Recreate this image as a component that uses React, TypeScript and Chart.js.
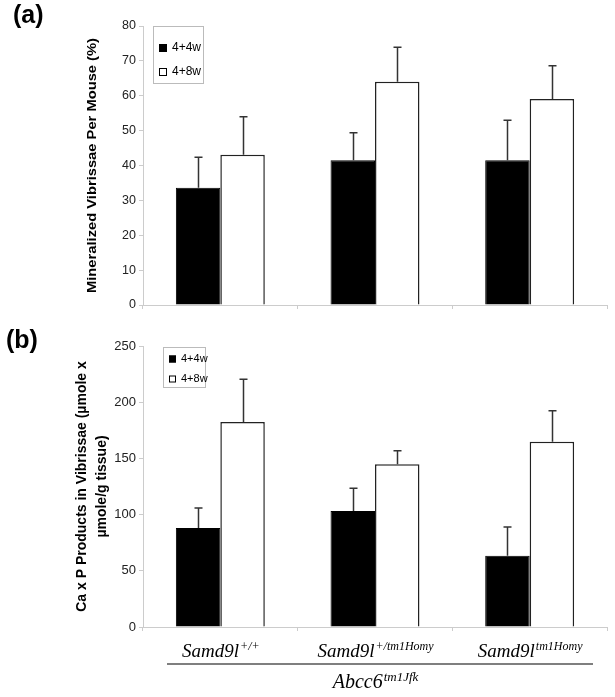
import React, { useEffect, useRef } from "react";
import { Chart, registerables } from "chart.js";
Chart.register(...registerables);

// ---- data ----
const categoryBase = ["Samd9l", "Samd9l", "Samd9l"];
const categorySup = ["+/+", "+/tm1Homy", "tm1Homy"];
const categories = ["Samd9l+/+", "Samd9l+/tm1Homy", "Samd9ltm1Homy"];
const groupBase = "Abcc6";
const groupSup = "tm1Jfk";
const seriesLabels = ["4+4w", "4+8w"];

const aMean44 = [33.6, 41.5, 41.5];
const aErr44 = [8.8, 7.9, 11.5];
const aMean48 = [43.1, 64.0, 59.1];
const aErr48 = [10.9, 9.9, 9.5];
const aMax = 80;
const aStep = 10;
const aTitle = ["Mineralized Vibrissae Per Mouse (%)"];

const bMean44 = [88.1, 103.2, 63.5];
const bErr44 = [17.8, 20.2, 25.5];
const bMean48 = [182.4, 144.8, 164.9];
const bErr48 = [38.0, 12.1, 27.6];
const bMax = 250;
const bStep = 50;
const bTitle = ["Ca x P Products in Vibrissae (\u00b5mole x", "\u00b5mole/g tissue)"];

const SANS = "'Liberation Sans', Arial, sans-serif";
const SERIF = "'Liberation Serif', 'Times New Roman', serif";

const errorBarPlugin = {
  id: "errorBars",
  afterDatasetsDraw(chart: any) {
    const ctx = chart.ctx;
    const y = chart.scales.y;
    chart.data.datasets.forEach((ds: any, di: number) => {
      const meta = chart.getDatasetMeta(di);
      meta.data.forEach((el: any, i: number) => {
        const v = ds.data[i];
        const e = ds.errors[i];
        const top = y.getPixelForValue(v + e);
        const x = Math.round(el.x) + 0.5;
        ctx.save();
        ctx.strokeStyle = "#333";
        ctx.lineWidth = 1.5;
        ctx.beginPath();
        ctx.moveTo(x, el.y);
        ctx.lineTo(x, top);
        ctx.moveTo(x - 4, top);
        ctx.lineTo(x + 4, top);
        ctx.stroke();
        ctx.restore();
      });
    });
  },
};

const decorPlugin = {
  id: "decor",
  afterDraw(chart: any, _args: any, opts: any) {
    const ctx = chart.ctx;
    const ca = chart.chartArea;
    ctx.save();
    // panel label
    ctx.fillStyle = "#000";
    ctx.font = `bold 25px ${SANS}`;
    ctx.textAlign = "left";
    ctx.textBaseline = "middle";
    ctx.fillText(opts.panel, opts.panelX, opts.panelY);

    // y title
    ctx.font = `bold ${opts.titleSize}px ${SANS}`;
    ctx.textAlign = "center";
    ctx.textBaseline = "middle";
    const cy = (ca.top + ca.bottom) / 2;
    opts.title.forEach((line: string, i: number) => {
      ctx.save();
      ctx.translate(opts.titleX[i], cy);
      ctx.rotate(-Math.PI / 2);
      if (opts.titleLen) {
        const w = ctx.measureText(line).width;
        ctx.scale(opts.titleLen / w, 1);
      }
      ctx.fillText(line, 0, 0);
      ctx.restore();
    });

    // legend box
    const lx = ca.left + opts.legX;
    const ly = ca.top + opts.legY;
    ctx.strokeStyle = "#bbb";
    ctx.lineWidth = 1;
    ctx.strokeRect(lx + 0.5, ly + 0.5, opts.legW, opts.legH);
    ctx.font = `${opts.legFont}px ${SANS}`;
    ctx.textAlign = "left";
    ctx.textBaseline = "middle";
    chart.data.datasets.forEach((ds: any, i: number) => {
      const ry = ly + opts.legRow0 + i * opts.legGap;
      const s = opts.legSq;
      ctx.fillStyle = ds.backgroundColor;
      ctx.fillRect(lx + 6, ry - s / 2, s, s);
      ctx.strokeStyle = "#000";
      ctx.strokeRect(lx + 6.5, ry - s / 2 + 0.5, s - 1, s - 1);
      ctx.fillStyle = "#000";
      ctx.fillText(ds.label, lx + 8 + s + 3, ry);
    });

    // category labels
    if (opts.catLabels) {
      const xs = chart.scales.x;
      const baseY = ca.bottom + 30;
      const drawSup = (base: string, sup: string, cx: number, by: number, size: number, supSize: number) => {
        ctx.font = `italic ${size}px ${SERIF}`;
        const wb = ctx.measureText(base).width;
        ctx.font = `italic ${supSize}px ${SERIF}`;
        const ws = ctx.measureText(sup).width;
        const start = cx - (wb + ws) / 2;
        ctx.fillStyle = "#000";
        ctx.textAlign = "left";
        ctx.textBaseline = "alphabetic";
        ctx.font = `italic ${size}px ${SERIF}`;
        ctx.fillText(base, start, by);
        ctx.font = `italic ${supSize}px ${SERIF}`;
        ctx.fillText(sup, start + wb + 1, by - 7);
      };
      categoryBase.forEach((b, i) => {
        drawSup(b, categorySup[i], xs.getPixelForValue(i), baseY, 19, 12);
      });
      ctx.strokeStyle = "#555";
      ctx.lineWidth = 1.5;
      ctx.beginPath();
      ctx.moveTo(ca.left + 24, baseY + 7);
      ctx.lineTo(ca.right - 14, baseY + 7);
      ctx.stroke();
      drawSup(groupBase, groupSup, xs.getPixelForValue(1), baseY + 31, 20, 13);
    }
    ctx.restore();
  },
};

function makeConfig(
  m44: number[], e44: number[], m48: number[], e48: number[],
  max: number, step: number, bottomPad: number, tickSize: number, decor: any
): any {
  return {
    type: "bar",
    data: {
      labels: categories,
      datasets: [
        {
          label: seriesLabels[0], data: m44, errors: e44,
          backgroundColor: "#000", borderColor: "#000", borderWidth: 1,
          categoryPercentage: 0.575, barPercentage: 1,
        },
        {
          label: seriesLabels[1], data: m48, errors: e48,
          backgroundColor: "#fff", borderColor: "#222", borderWidth: 1.5,
          categoryPercentage: 0.575, barPercentage: 1,
        },
      ],
    },
    options: {
      responsive: false,
      animation: false,
      devicePixelRatio: 1,
      layout: { padding: { left: 0, right: 8, top: 26, bottom: bottomPad } },
      plugins: { legend: { display: false }, tooltip: { enabled: false }, decor },
      scales: {
        x: {
          ticks: { display: false },
          grid: { drawOnChartArea: false, color: "#ccc", tickLength: 4, offset: true },
          border: { color: "#ccc" },
          afterFit: (s: any) => { s.height = 10; },
        },
        y: {
          min: 0, max,
          ticks: { stepSize: step, color: "#222", font: { family: SANS, size: tickSize }, padding: 3 },
          grid: { drawOnChartArea: false, color: "#ccc", tickLength: 4 },
          border: { color: "#ccc" },
          afterFit: (s: any) => { s.width = 143; },
        },
      },
    },
    plugins: [errorBarPlugin, decorPlugin],
  };
}

export default function App() {
  const refA = useRef<HTMLCanvasElement>(null);
  const refB = useRef<HTMLCanvasElement>(null);
  useEffect(() => {
    const a = new Chart(refA.current as any, makeConfig(aMean44, aErr44, aMean48, aErr48, aMax, aStep, 5, 12.5, {
      panel: "(a)", panelX: 13, panelY: 16,
      title: aTitle, titleX: [92], titleSize: 13.5, titleLen: 255,
      legX: 10, legY: 0, legW: 50, legH: 57, legFont: 12, legRow0: 22, legGap: 24, legSq: 8,
      catLabels: false,
    }));
    const b = new Chart(refB.current as any, makeConfig(bMean44, bErr44, bMean48, bErr48, bMax, bStep, 60, 13, {
      panel: "(b)", panelX: 6, panelY: 21,
      title: bTitle, titleX: [82, 102], titleSize: 14, titleLen: 0,
      legX: 20, legY: 1, legW: 42, legH: 40, legFont: 11, legRow0: 12, legGap: 20, legSq: 7,
      catLabels: true,
    }));
    return () => { a.destroy(); b.destroy(); };
  }, []);
  return (
    <div style={{ position: "absolute", left: 0, top: 0, width: 615, height: 697, background: "#fff" }}>
      <canvas ref={refA} width={615} height={320} style={{ position: "absolute", left: 0, top: 0 }} />
      <canvas ref={refB} width={615} height={377} style={{ position: "absolute", left: 0, top: 320 }} />
    </div>
  );
}
